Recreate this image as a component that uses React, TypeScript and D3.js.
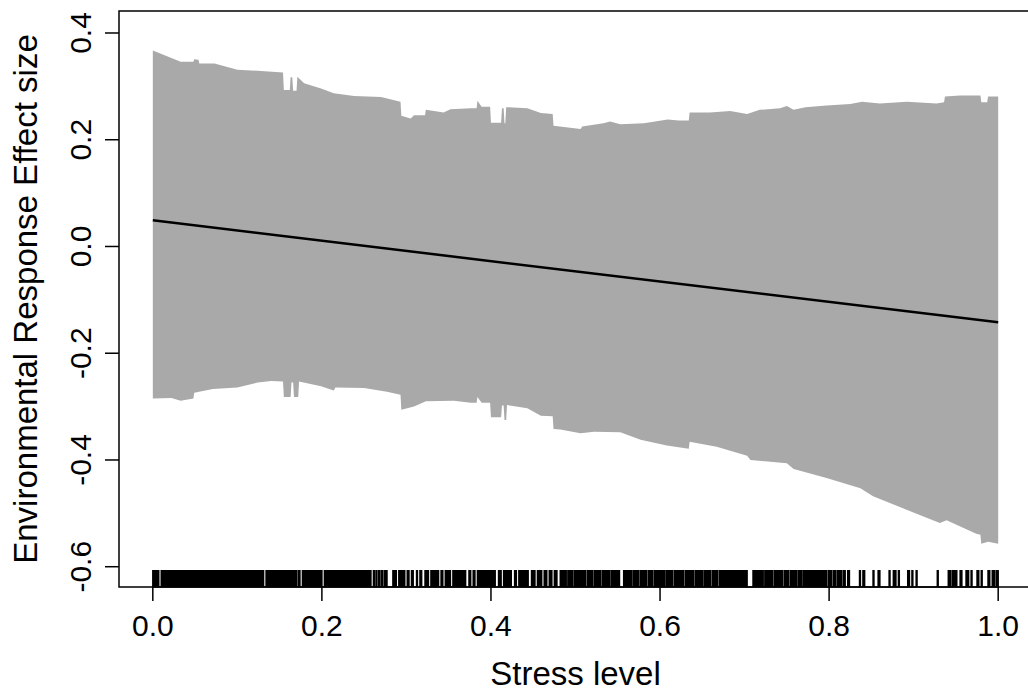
import React from "react";
import * as d3 from "d3";

// upper / lower edge of the grey band: [stress, effect]
const upperEdge: [number, number][] = [
  [0.0, 0.367], [0.033, 0.346], [0.048, 0.346], [0.049, 0.351], [0.054, 0.35], [0.055, 0.343],
  [0.073, 0.343], [0.1, 0.331], [0.128, 0.329], [0.154, 0.326], [0.155, 0.293], [0.162, 0.293],
  [0.163, 0.317], [0.165, 0.317], [0.166, 0.292], [0.17, 0.292], [0.171, 0.318], [0.179, 0.306],
  [0.199, 0.296], [0.214, 0.287], [0.238, 0.282], [0.27, 0.28], [0.293, 0.271], [0.294, 0.245],
  [0.305, 0.24], [0.309, 0.246], [0.322, 0.246], [0.323, 0.256], [0.344, 0.251], [0.352, 0.257],
  [0.376, 0.259], [0.383, 0.259], [0.384, 0.273], [0.389, 0.262], [0.399, 0.262], [0.4, 0.232],
  [0.412, 0.232], [0.413, 0.259], [0.415, 0.259], [0.416, 0.231], [0.417, 0.231], [0.418, 0.261],
  [0.443, 0.259], [0.459, 0.25], [0.473, 0.248], [0.474, 0.226], [0.506, 0.22], [0.508, 0.225],
  [0.533, 0.231], [0.541, 0.234], [0.553, 0.229], [0.581, 0.231], [0.609, 0.238], [0.622, 0.236],
  [0.634, 0.236], [0.635, 0.251], [0.659, 0.251], [0.683, 0.254], [0.703, 0.248], [0.718, 0.256],
  [0.742, 0.259], [0.75, 0.263], [0.758, 0.256], [0.772, 0.261], [0.797, 0.264], [0.825, 0.267],
  [0.839, 0.271], [0.86, 0.268], [0.892, 0.271], [0.927, 0.268], [0.936, 0.27], [0.937, 0.281],
  [0.955, 0.283], [0.979, 0.283], [0.98, 0.27], [0.987, 0.27], [0.988, 0.281], [1.0, 0.281],
];

const lowerEdge: [number, number][] = [
  [0.0, -0.285], [0.022, -0.284], [0.033, -0.289], [0.048, -0.285], [0.049, -0.274], [0.071, -0.267],
  [0.1, -0.264], [0.124, -0.255], [0.14, -0.252], [0.154, -0.253], [0.155, -0.282], [0.163, -0.282],
  [0.164, -0.255], [0.166, -0.255], [0.167, -0.282], [0.172, -0.282], [0.173, -0.253], [0.199, -0.262],
  [0.214, -0.27], [0.216, -0.264], [0.25, -0.265], [0.277, -0.272], [0.293, -0.278], [0.294, -0.306],
  [0.309, -0.3], [0.323, -0.29], [0.356, -0.289], [0.376, -0.293], [0.383, -0.293], [0.384, -0.282],
  [0.389, -0.293], [0.399, -0.293], [0.4, -0.32], [0.412, -0.32], [0.413, -0.298], [0.415, -0.298],
  [0.416, -0.325], [0.418, -0.325], [0.419, -0.297], [0.443, -0.303], [0.459, -0.317], [0.473, -0.318],
  [0.474, -0.342], [0.482, -0.343], [0.506, -0.35], [0.522, -0.347], [0.553, -0.348], [0.577, -0.362],
  [0.608, -0.373], [0.634, -0.379], [0.635, -0.366], [0.667, -0.375], [0.703, -0.392], [0.707, -0.4],
  [0.75, -0.406], [0.758, -0.417], [0.797, -0.434], [0.837, -0.453], [0.852, -0.468], [0.896, -0.496],
  [0.931, -0.518], [0.939, -0.513], [0.974, -0.538], [0.979, -0.54], [0.98, -0.557], [0.988, -0.553],
  [1.0, -0.557],
];

// fitted effect
const fitLine: [number, number][] = [[0, 0.049], [1, -0.142]];

// rug: stretches of observed stress values [from, to]
const rugSpans: [number, number][] = [
  [0.0, 0.007], [0.01, 0.131], [0.134, 0.17], [0.172, 0.174], [0.177, 0.2], [0.203, 0.258],
  [0.261, 0.262], [0.264, 0.265], [0.267, 0.268], [0.27, 0.272], [0.274, 0.277], [0.284, 0.288],
  [0.291, 0.298], [0.301, 0.303], [0.306, 0.308], [0.312, 0.313], [0.316, 0.318], [0.322, 0.326],
  [0.329, 0.338], [0.341, 0.343], [0.346, 0.352], [0.355, 0.37], [0.374, 0.376], [0.379, 0.381],
  [0.384, 0.405], [0.409, 0.412], [0.415, 0.424], [0.428, 0.43], [0.433, 0.444], [0.448, 0.452],
  [0.455, 0.46], [0.463, 0.466], [0.469, 0.472], [0.475, 0.478], [0.482, 0.489], [0.491, 0.497],
  [0.499, 0.512], [0.514, 0.52], [0.522, 0.53], [0.532, 0.54], [0.542, 0.552], [0.557, 0.566],
  [0.568, 0.575], [0.577, 0.584], [0.586, 0.591], [0.593, 0.605], [0.607, 0.615], [0.617, 0.628],
  [0.63, 0.64], [0.642, 0.65], [0.652, 0.66], [0.662, 0.668], [0.67, 0.703], [0.71, 0.722],
  [0.724, 0.733], [0.735, 0.745], [0.747, 0.752], [0.754, 0.762], [0.764, 0.768], [0.77, 0.797],
  [0.799, 0.803], [0.805, 0.808], [0.81, 0.815], [0.817, 0.819], [0.822, 0.824], [0.836, 0.837],
  [0.84, 0.842], [0.852, 0.853], [0.858, 0.86], [0.871, 0.872], [0.876, 0.879], [0.882, 0.883],
  [0.893, 0.895], [0.898, 0.899], [0.903, 0.904], [0.928, 0.929], [0.941, 0.944], [0.946, 0.951],
  [0.955, 0.957], [0.962, 0.965], [0.968, 0.969], [0.975, 0.977], [0.98, 0.981], [0.988, 0.99],
  [0.993, 0.996], [0.998, 1.0],
];

const xTicks = [0, 0.2, 0.4, 0.6, 0.8, 1.0];
const yTicks = [-0.6, -0.4, -0.2, 0, 0.2, 0.4];

const W = 1028;
const H = 693;
const font = "'Liberation Sans', Arial, sans-serif";
const tickFs = 30;
const titleFs = 33;

export default function App() {
  const left = 119, right = 1032, top = 11, bottom = 587;

  const x = d3.scaleLinear().domain([-0.04, 1.04]).range([left, right]);
  const y = d3.scaleLinear().domain([-0.638, 0.4412]).range([bottom, top]);

  const line = d3.line<[number, number]>().x(d => x(d[0])).y(d => y(d[1]));
  const band = line([...upperEdge, ...lowerEdge.slice().reverse()]) + "Z";

  const rugLen = 17;

  return (
    <svg width={W} height={H} style={{ position: "absolute", left: 0, top: 0, background: "#fff" }}
      fontFamily={font}>
      <path d={band} fill="#a9a9a9" stroke="none" />
      <path d={line(fitLine) ?? ""} fill="none" stroke="#000" strokeWidth={2.5} />

      {rugSpans.map(([a, b], i) => (
        <rect key={i} x={x(a) - 0.75} y={bottom - rugLen}
          width={Math.max(x(b) - x(a) + 1.5, 1.5)} height={rugLen} fill="#000" />
      ))}

      <rect x={left} y={top} width={right - left} height={bottom - top}
        fill="none" stroke="#000" strokeWidth={1.5} />

      {/* x axis */}
      <line x1={x(0)} x2={x(1)} y1={bottom} y2={bottom} stroke="#000" strokeWidth={1.5} />
      {xTicks.map(t => (
        <g key={t}>
          <line x1={x(t)} x2={x(t)} y1={bottom} y2={bottom + 14} stroke="#000" strokeWidth={1.5} />
          <text x={x(t)} y={636} textAnchor="middle" fontSize={tickFs}>{t.toFixed(1)}</text>
        </g>
      ))}
      <text x={(left + right) / 2} y={685} textAnchor="middle" fontSize={titleFs}>Stress level</text>

      {/* y axis */}
      {yTicks.map(t => (
        <g key={t}>
          <line x1={left - 14} x2={left} y1={y(t)} y2={y(t)} stroke="#000" strokeWidth={1.5} />
          <text transform={`translate(91,${y(t)}) rotate(-90)`} textAnchor="middle" fontSize={tickFs}>
            {t.toFixed(1)}
          </text>
        </g>
      ))}
      <text transform={`translate(37,${(top + bottom) / 2}) rotate(-90)`} textAnchor="middle" fontSize={titleFs}>
        Environmental Response Effect size
      </text>
    </svg>
  );
}
